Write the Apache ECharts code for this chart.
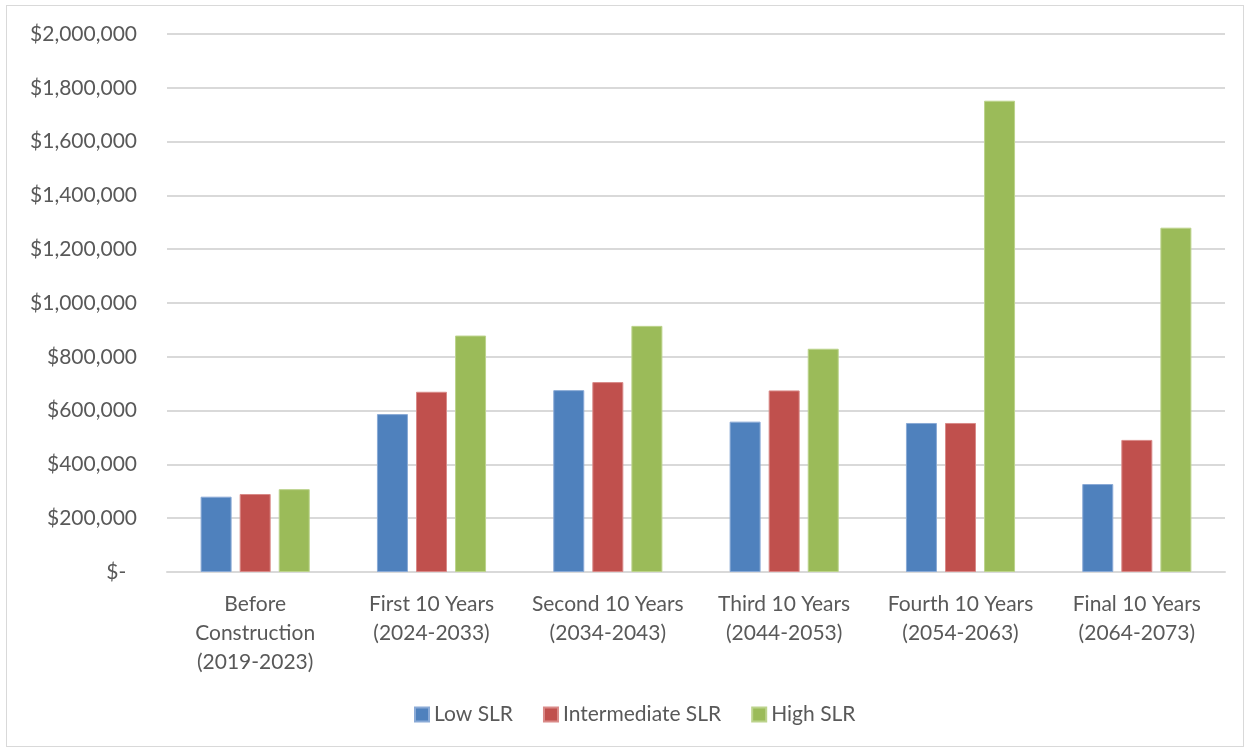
<!DOCTYPE html>
<html>
<head>
<meta charset="utf-8">
<script src="https://cdn.jsdelivr.net/npm/echarts@6/dist/echarts.min.js"></script>
<style>
  html, body { margin: 0; padding: 0; background: #ffffff; }
  #frame {
    position: absolute; left: 6px; top: 5px; width: 1238px; height: 742px;
    border: 1px solid #d9d9d9; box-sizing: border-box;
  }
  #chart { position: absolute; left: 0; top: 0; width: 1250px; height: 751px; }
</style>
</head>
<body>
<div id="frame"></div>
<div id="chart"></div>
<script>
// Periods along the x axis
const categories = [
  'Before\nConstruction\n(2019-2023)',
  'First 10 Years\n(2024-2033)',
  'Second 10 Years\n(2034-2043)',
  'Third 10 Years\n(2044-2053)',
  'Fourth 10 Years\n(2054-2063)',
  'Final 10 Years\n(2064-2073)'
];

// Costs per sea-level-rise scenario (USD)
const lowSLR          = [280000, 587000, 676000, 559000, 554000, 327000];
const intermediateSLR = [290000, 670000, 706000, 675000, 554000, 491000];
const highSLR         = [308000, 879000, 915000, 830000, 1752000, 1280000];

const seriesNames = ['Low SLR', 'Intermediate SLR', 'High SLR'];
const seriesColors = ['#4f81bd', '#c0504d', '#9bbb59'];
const edgeColors = ['#8aaad6', '#d98a88', '#bcd38c'];

// y axis: $0 to $2,000,000 in steps of $200,000
const yMin = 0, yMax = 2000000, yStep = 200000;

const font = 'Lato, "Open Sans", sans-serif';
const textColor = '#595959';

function money(v) {
  if (v === 0) return '$-  ';
  return '$' + v.toLocaleString('en-US');
}

const chart = echarts.init(document.getElementById('chart'), null, { renderer: 'canvas' });

const values = [lowSLR, intermediateSLR, highSLR];

chart.setOption({
  animation: false,
  backgroundColor: 'transparent',
  grid: { left: 167, right: 25, top: 34, bottom: 179, containLabel: false },
  legend: {
    bottom: 21,
    left: 409,
    itemWidth: 14,
    itemHeight: 14,
    itemGap: 30,
    icon: 'rect',
    textStyle: { color: textColor, fontSize: 21, fontFamily: font },
    data: seriesNames
  },
  xAxis: {
    type: 'category',
    data: categories,
    axisLine: { show: true, lineStyle: { color: '#d9d9d9', width: 2 } },
    axisTick: { show: false },
    axisLabel: {
      color: textColor, fontSize: 21, fontFamily: font,
      lineHeight: 29, margin: 18, interval: 0
    }
  },
  yAxis: {
    type: 'value',
    min: yMin, max: yMax, interval: yStep,
    axisLine: { show: false },
    axisTick: { show: false },
    splitLine: { lineStyle: { color: '#d9d9d9', width: 2 } },
    axisLabel: {
      color: textColor, fontSize: 21, fontFamily: font, margin: 30,
      formatter: money
    }
  },
  series: seriesNames.map((name, i) => ({
    name: name,
    type: 'bar',
    data: values[i],
    barWidth: 31,
    barGap: '26%',
    itemStyle: { color: seriesColors[i], borderColor: edgeColors[i], borderWidth: 1 }
  }))
});
</script>
</body>
</html>
